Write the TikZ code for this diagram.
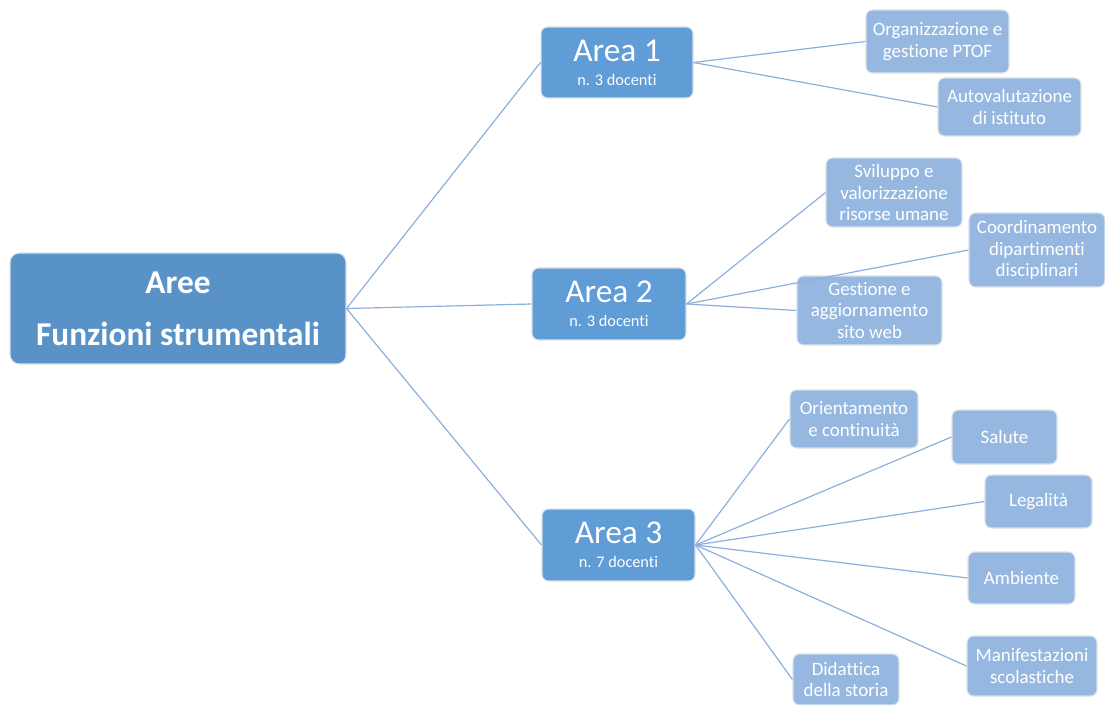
\documentclass[tikz,border=0pt]{standalone}
\usepackage{fontspec}
\setmainfont{Carlito}[Ligatures={NoCommon}]
\definecolor{rootfill}{RGB}{88,146,199}
\definecolor{areafill}{RGB}{96,156,214}
\definecolor{leaffill}{RGB}{150,184,224}
\definecolor{boxborder}{RGB}{220,226,234}
\definecolor{linkcol}{RGB}{140,176,220}
\tikzset{
  box/.style={draw=boxborder, line width=0.8pt, rounded corners=5pt, text=white, align=center, inner sep=0pt},
  rootbox/.style={box, fill=rootfill, rounded corners=7pt, font=\bfseries\fontsize{25}{39}\selectfont},
  areabox/.style={box, fill=areafill, font=\fontsize{25}{22}\selectfont},
  leafbox/.style={box, fill=leaffill, font=\fontsize{14.2}{16.3}\selectfont},
  link/.style={draw=linkcol, line width=0.9pt},
}
\newcommand{\smalltxt}[1]{{\fontsize{12.2}{13}\selectfont #1}}
\begin{document}
\begin{tikzpicture}[x=0.75pt,y=-0.75pt]
\useasboundingbox (0,0) rectangle (1105,705);
\node[rootbox, minimum width=252pt, minimum height=83.25pt] (root) at (178,308.5) {Aree\\Funzioni strumentali};
\node[areabox, minimum width=114pt, minimum height=53.25pt] (a1) at (617,62.5) {Area 1\\[-4pt]\smalltxt{n. 3 docenti}};
\node[areabox, minimum width=115.5pt, minimum height=54pt] (a2) at (609,304) {Area 2\\[-4pt]\smalltxt{n. 3 docenti}};
\node[areabox, minimum width=114.75pt, minimum height=54pt] (a3) at (618.5,545) {Area 3\\[-4pt]\smalltxt{n. 7 docenti}};
\node[leafbox, minimum width=107.25pt, minimum height=47.25pt] (org) at (937.5,41.5) {Organizzazione e\\gestione PTOF};
\node[leafbox, minimum width=107.25pt, minimum height=43.5pt] (auto) at (1009.5,107) {Autovalutazione\\di istituto};
\node[leafbox, minimum width=102pt, minimum height=51.75pt] (svil) at (894,192.5) {Sviluppo e\\valorizzazione\\risorse umane};
\node[leafbox, minimum width=102pt, minimum height=55.5pt] (coord) at (1037,250) {Coordinamento\\dipartimenti\\disciplinari};
\node[leafbox, minimum width=108.75pt, minimum height=51.75pt] (gest) at (869.5,310.5) {Gestione e\\aggiornamento\\sito web};
\node[leafbox, minimum width=96pt, minimum height=43.5pt] (orient) at (854,419) {Orientamento\\e continuità};
\node[leafbox, minimum width=78.75pt, minimum height=40.5pt] (sal) at (1004.5,437) {Salute};
\node[leafbox, minimum width=80.25pt, minimum height=39.75pt] (leg) at (1038.5,501.5) {Legalità};
\node[leafbox, minimum width=80.25pt, minimum height=39pt] (amb) at (1021.5,578) {Ambiente};
\node[leafbox, minimum width=97.5pt, minimum height=45pt] (man) at (1032,666) {Manifestazioni\\scolastiche};
\node[leafbox, minimum width=79.5pt, minimum height=38.25pt] (did) at (846,679.5) {Didattica\\della storia};
\draw[link] (root.east) -- (a1.west);
\draw[link] (root.east) -- (a2.west);
\draw[link] (root.east) -- (a3.west);
\draw[link] (a1.east) -- (org.west);
\draw[link] (a1.east) -- (auto.west);
\draw[link] (a2.east) -- (svil.west);
\draw[link] (a2.east) -- (coord.west);
\draw[link] (a2.east) -- (gest.west);
\draw[link] (a3.east) -- (orient.west);
\draw[link] (a3.east) -- (sal.west);
\draw[link] (a3.east) -- (leg.west);
\draw[link] (a3.east) -- (amb.west);
\draw[link] (a3.east) -- (man.west);
\draw[link] (a3.east) -- (did.west);
\end{tikzpicture}
\end{document}
